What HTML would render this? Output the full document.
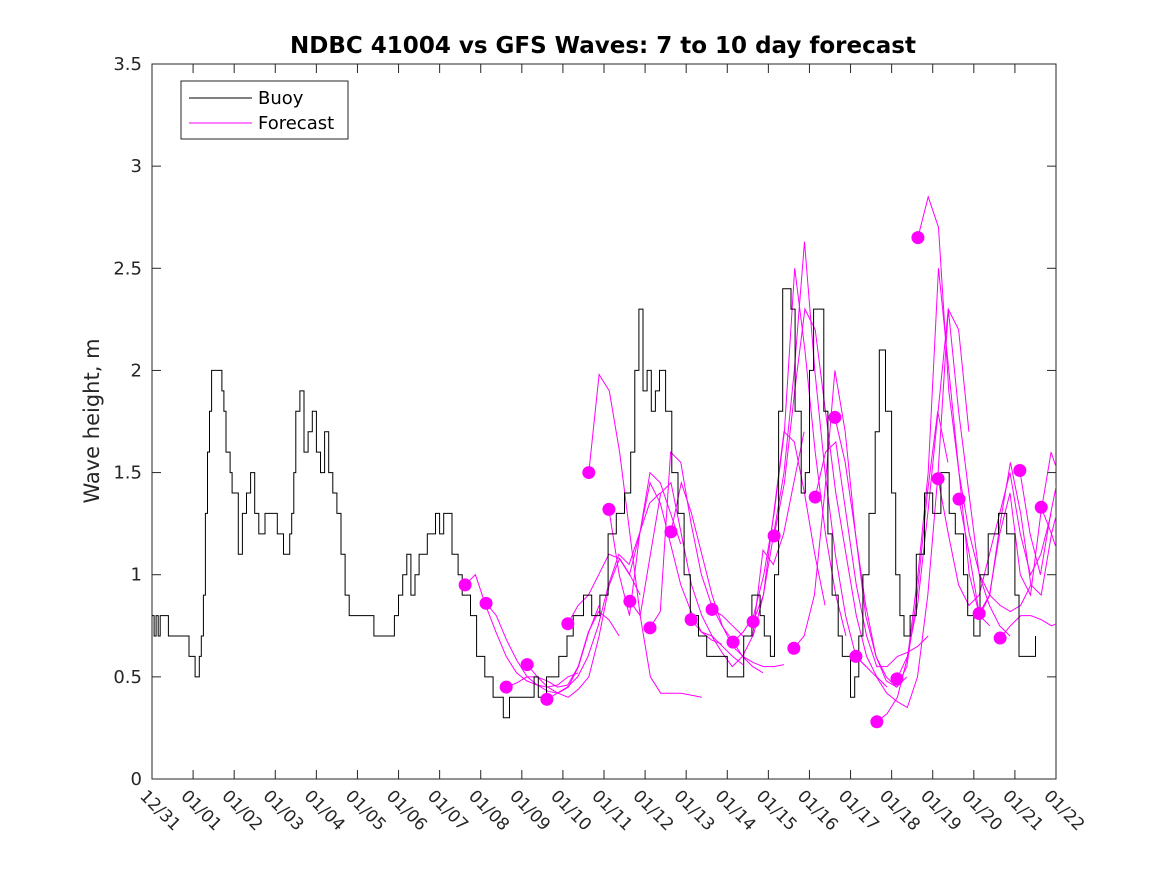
<!DOCTYPE html>
<html><head><meta charset="utf-8"><style>
html,body{margin:0;padding:0;background:#fff;}
svg{display:block;font-family:"DejaVu Sans","Liberation Sans",sans-serif;}
</style></head><body>
<svg id="chart" width="1167" height="875" viewBox="0 0 1167 875">
<rect x="0" y="0" width="1167" height="875" fill="#fff"/>
<text x="603" y="53" text-anchor="middle" font-size="23" font-weight="bold">NDBC 41004 vs GFS Waves: 7 to 10 day forecast</text>
<text transform="translate(99,421) rotate(-90)" text-anchor="middle" font-size="21" fill="#262626">Wave height, m</text>
<g id="grid"></g>
<g id="plot"></g>
<g>
<rect x="181" y="81" width="167" height="58" fill="#fff" stroke="#262626" stroke-width="1"/>
<line x1="189" y1="98" x2="252" y2="98" stroke="#000" stroke-width="1"/>
<text x="258" y="104" font-size="18">Buoy</text>
<line x1="189" y1="123" x2="252" y2="123" stroke="#ff00ff" stroke-width="1"/>
<text x="258" y="129" font-size="18">Forecast</text>
</g>
</svg>
<script>
const xTickLabels=["12/31","01/01","01/02","01/03","01/04","01/05","01/06","01/07","01/08","01/09","01/10","01/11","01/12","01/13","01/14","01/15","01/16","01/17","01/18","01/19","01/20","01/21","01/22"];
const yTicks=[0,0.5,1,1.5,2,2.5,3,3.5];
const yTickLabels=["0","0.5","1","1.5","2","2.5","3","3.5"];
const buoyT=[0,0.05,0.1,0.15,0.2,0.3,0.4,0.75,0.9,1.05,1.1,1.15,1.2,1.25,1.3,1.35,1.4,1.45,1.65,1.7,1.75,1.8,1.9,1.95,2.1,2.2,2.3,2.4,2.5,2.6,2.75,2.9,3.05,3.2,3.35,3.4,3.45,3.5,3.6,3.7,3.8,3.9,4.0,4.1,4.2,4.3,4.4,4.5,4.6,4.7,4.8,5.0,5.4,5.75,5.9,6.0,6.1,6.2,6.3,6.4,6.5,6.7,6.9,7.0,7.1,7.3,7.45,7.55,7.75,7.9,8.1,8.3,8.55,8.7,9.0,9.3,9.4,9.6,9.9,10.1,10.25,10.5,10.7,10.9,11.1,11.3,11.5,11.65,11.75,11.85,11.95,12.05,12.15,12.25,12.35,12.5,12.65,12.8,12.95,13.1,13.3,13.5,13.8,14.0,14.2,14.4,14.6,14.8,14.9,15.05,15.15,15.25,15.35,15.55,15.65,15.8,15.9,16.0,16.1,16.35,16.45,16.55,16.7,16.8,17.0,17.1,17.2,17.3,17.45,17.6,17.7,17.85,18.0,18.1,18.2,18.3,18.45,18.6,18.8,19.0,19.2,19.4,19.55,19.75,19.85,20.0,20.15,20.35,20.6,20.8,21.0,21.1,21.4,21.5];
const buoyV=[0.8,0.7,0.8,0.7,0.8,0.8,0.7,0.7,0.6,0.5,0.5,0.6,0.7,0.9,1.3,1.6,1.8,2.0,2.0,1.9,1.8,1.6,1.5,1.4,1.1,1.3,1.4,1.5,1.3,1.2,1.3,1.3,1.2,1.1,1.2,1.3,1.5,1.8,1.9,1.6,1.7,1.8,1.6,1.5,1.7,1.5,1.4,1.3,1.1,0.9,0.8,0.8,0.7,0.7,0.8,0.9,1.0,1.1,0.9,1.0,1.1,1.2,1.3,1.2,1.3,1.1,1.0,0.9,0.8,0.6,0.5,0.4,0.3,0.4,0.4,0.5,0.4,0.5,0.6,0.7,0.8,0.9,0.8,0.9,1.2,1.3,1.4,1.6,2.0,2.3,1.9,2.0,1.8,1.9,2.0,1.8,1.5,1.3,1.0,0.8,0.7,0.6,0.6,0.5,0.5,0.7,0.9,0.8,0.7,0.6,1.0,1.8,2.4,2.3,1.8,1.4,1.5,2.0,2.3,1.8,1.2,0.9,0.7,0.6,0.4,0.5,0.7,1.0,1.3,1.7,2.1,1.8,1.4,1.0,0.8,0.7,0.8,1.1,1.4,1.3,1.5,1.3,1.2,1.0,0.8,0.7,1.0,1.2,1.3,1.2,0.9,0.6,0.6,0.7];
const fcStart=[7.62,8.13,8.62,9.13,9.61,10.12,10.63,11.12,11.63,12.12,12.63,13.12,13.63,14.14,14.63,15.14,15.62,16.14,16.62,17.13,17.64,18.13,18.64,19.13,19.64,20.13,20.64,21.12,21.64];
const fc1=[0.95,1.0,0.85,0.72,0.6,0.52,0.48,0.46,0.45,0.46,0.5,0.52];
const fc2=[0.86,0.8,0.68,0.58,0.5,0.46,0.43,0.42,0.45,0.55,0.72,0.85];
const fc3=[0.45,0.47,0.5,0.5,0.48,0.45,0.46,0.55,0.72,0.82,0.78,0.7];
const fc4=[0.56,0.5,0.45,0.42,0.4,0.44,0.5,0.7,0.95,1.08,1.0,0.9];
const fc5=[0.39,0.42,0.45,0.5,0.6,0.75,0.95,1.1,1.05,1.2,1.35,1.4];
const fc6=[0.76,0.85,0.9,1.0,1.1,1.08,1.0,1.2,1.5,1.45,1.3,1.15];
const fc7=[1.5,1.98,1.9,1.6,1.2,0.8,0.5,0.42,0.42,0.42,0.41,0.4];
const fc8=[1.32,1.0,0.8,1.2,1.45,1.35,1.15,0.95,0.82,0.72,0.68,0.66];
const fc9=[0.87,0.8,1.1,1.4,1.45,1.2,0.95,0.8,0.7,0.65,0.6,0.56];
const fc10=[0.74,0.82,1.6,1.55,1.25,1.0,0.85,0.75,0.68,0.6,0.55,0.52];
const fc11=[1.21,1.45,1.3,1.1,0.9,0.75,0.65,0.6,0.57,0.55,0.55,0.56];
const fc12=[0.78,0.72,0.7,0.62,0.55,0.6,0.7,1.12,1.05,1.2,1.45,1.7];
const fc13=[0.83,0.8,0.75,0.7,0.7,0.9,1.3,1.7,1.65,1.4,1.1,0.85];
const fc14=[0.67,0.72,0.8,1.0,1.3,1.7,2.5,2.1,1.6,1.2,0.9,0.7];
const fc15=[0.77,0.9,1.2,1.5,2.0,2.63,2.0,1.5,1.1,0.8,0.6,0.55];
const fc16=[1.19,1.45,1.9,2.3,2.2,1.8,1.4,1.1,0.8,0.6,0.5,0.45];
const fc17=[0.64,0.7,0.9,1.4,2.0,1.7,1.2,0.8,0.6,0.5,0.45,0.5];
const fc18=[1.38,1.6,1.65,1.3,0.95,0.7,0.55,0.55,0.6,0.62,0.65,0.7];
const fc19=[1.77,1.55,1.2,0.85,0.6,0.48,0.45,0.55,0.9,1.4,1.8,1.55];
const fc20=[0.6,0.55,0.5,0.42,0.38,0.35,0.5,0.9,1.5,2.3,2.2,1.7];
const fc21=[0.28,0.32,0.4,0.6,1.0,1.5,2.5,2.0,1.5,1.0,0.8,0.75];
const fc22=[0.49,0.6,0.85,1.3,1.8,2.3,1.8,1.4,1.0,0.85,0.75,0.7];
const fc23=[2.65,2.85,2.7,1.9,1.5,1.2,1.0,0.9,0.85,0.82,0.85,0.95];
const fc24=[1.47,1.2,0.95,0.85,0.9,1.1,1.3,1.5,1.2,1.0,1.1,1.3];
const fc25=[1.37,1.1,0.8,0.9,1.25,1.55,1.3,0.95,0.9,1.2,1.4,1.5];
const fc26=[0.81,0.9,1.2,1.4,1.0,0.9,1.3,1.6,1.45,1.2,1.1,1.0];
const fc27=[0.69,0.75,0.8,0.8,0.78,0.75,0.77,0.78,0.8];
const fc28=[1.51,1.2,1.0,1.3,1.55,1.5,1.4];
const fc29=[1.33,1.2,1.05,1.0];
const forecasts=[fc1,fc2,fc3,fc4,fc5,fc6,fc7,fc8,fc9,fc10,fc11,fc12,fc13,fc14,fc15,fc16,fc17,fc18,fc19,fc20,fc21,fc22,fc23,fc24,fc25,fc26,fc27,fc28,fc29];

const NS="http://www.w3.org/2000/svg";
const L=152,R=1056,T=64,B=779,xMax=22,yMax=3.5;
const xs=d=>L+(d/xMax)*(R-L);
const ys=v=>B-(v/yMax)*(B-T);
function mk(tag,attrs,parent){const e=document.createElementNS(NS,tag);for(const k in attrs)e.setAttribute(k,attrs[k]);parent.appendChild(e);return e;}
const grid=document.getElementById('grid'),plot=document.getElementById('plot');

const defs=mk('defs',{},plot);
const cp=mk('clipPath',{id:'clip'},defs);
mk('rect',{x:L,y:T,width:R-L,height:B-T},cp);

xTickLabels.forEach((lab,i)=>{
  const x=xs(i);
  const t1=mk('line',{x1:x,y1:B,x2:x,y2:B-9,stroke:'#262626','stroke-width':1},grid);
  
  
  const t2=mk('line',{x1:x,y1:T,x2:x,y2:T+9,stroke:'#262626','stroke-width':1},grid);
  
  
  const tx=mk('text',{x:0,y:0,'font-size':17,fill:'#262626',transform:`translate(${x-13},${797}) rotate(45)`},grid);
  tx.textContent=lab;
  
  
});
yTicks.forEach((v,i)=>{
  const y=ys(v);
  const t1=mk('line',{x1:L,y1:y,x2:L+9,y2:y,stroke:'#262626','stroke-width':1},grid);
  
  
  const t2=mk('line',{x1:R,y1:y,x2:R-9,y2:y,stroke:'#262626','stroke-width':1},grid);
  
  
  const tx=mk('text',{x:L-10,y:y+6,'font-size':18,fill:'#262626','text-anchor':'end'},grid);
  tx.textContent=yTickLabels[i];
  
  
});
const frame=mk('rect',{x:L,y:T,width:R-L,height:B-T,fill:'none',stroke:'#262626','stroke-width':1},grid);



const fg=mk('g',{'clip-path':'url(#clip)'},plot);
forecasts.forEach((arr,i)=>{
  const pts=arr.map((v,j)=>xs(fcStart[i]+j*0.25).toFixed(1)+','+ys(v).toFixed(1)).join(' ');
  const pl=mk('polyline',{points:pts,fill:'none',stroke:'#ff00ff','stroke-width':1},fg);
  
  
});
let d='';
buoyT.forEach((t,i)=>{
  const x=xs(t).toFixed(1),y=ys(buoyV[i]).toFixed(1);
  if(i===0)d+=`M${x},${y}`;else d+=`H${x}V${y}`;
});
const bp=mk('path',{d:d,fill:'none',stroke:'#000','stroke-width':1},plot);


forecasts.forEach((arr,i)=>{
  const c=mk('circle',{cx:xs(fcStart[i]),cy:ys(arr[0]),r:6.5,fill:'#ff00ff'},plot);
  
  
});
</script>
</body></html>
